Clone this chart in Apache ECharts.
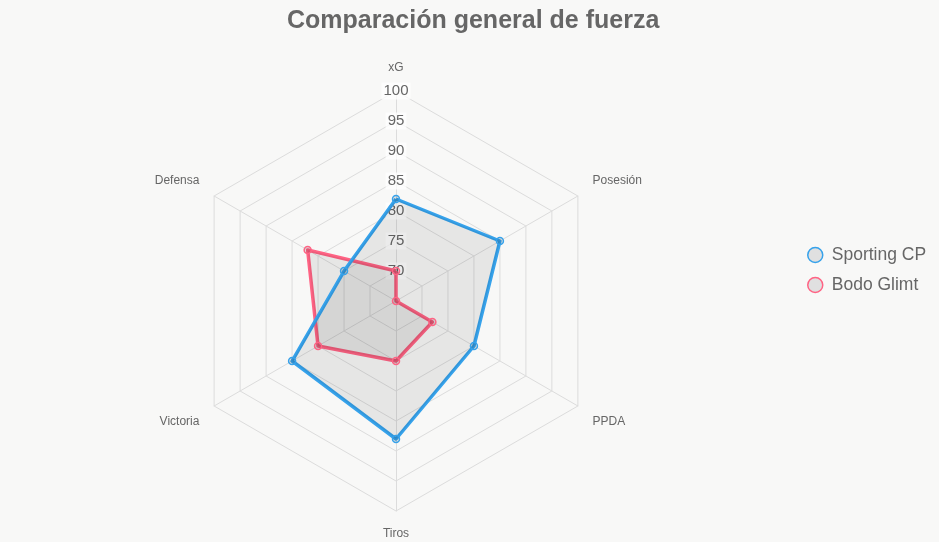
<!DOCTYPE html>
<html>
<head>
<meta charset="utf-8">
<script src="https://cdn.jsdelivr.net/npm/echarts@6/dist/echarts.min.js"></script>
<style>
  html, body { margin: 0; padding: 0; background: #f8f8f7; }
  #chart { width: 939px; height: 542px; }
</style>
</head>
<body>
<div id="chart"></div>
<script>
// axes in clockwise order, starting at the top
const axes = ['xG', 'Posesión', 'PPDA', 'Tiros', 'Victoria', 'Defensa']
const sporting = [82, 85, 80, 88, 85, 75]
const bodo = [70, 65, 72, 75, 80, 82]
const teams = ['Sporting CP', 'Bodo Glimt']
const colors = ['#36a2eb', '#ff6384']
const scaleMin = 65
const scaleMax = 100
const step = 5

// echarts lays radar axes counter-clockwise, so keep the first and flip the rest
const order = [0, ...axes.slice(1).map((_, i) => axes.length - 1 - i)]
const pick = arr => order.map(i => arr[i])

const center = [396, 301]
const radius = 210
const textColor = '#666'
const font = 'Liberation Sans, Arial, Helvetica, sans-serif'

const chart = echarts.init(document.getElementById('chart'))

const makeItem = (name, values, color) => ({
  name,
  value: pick(values),
  symbol: 'circle',
  symbolSize: 7,
  lineStyle: { color, width: 3.5 },
  areaStyle: { color: 'rgba(0,0,0,0.1)' },
  itemStyle: { color: 'rgba(0,0,0,0.1)', borderColor: color, borderWidth: 1.5 }
})

// side labels sit a little further from the vertex vertically
const nameStyle = name => {
  if (name === 'Posesión' || name === 'Defensa') return '{up|' + name + '}'
  if (name === 'PPDA' || name === 'Victoria') return '{down|' + name + '}'
  return name
}

chart.setOption({
  backgroundColor: '#f8f8f7',
  textStyle: { fontFamily: font },
  title: {
    text: 'Comparación general de fuerza',
    left: 282,
    top: 4,
    textStyle: { fontSize: 25, fontWeight: 'bold', color: textColor, fontFamily: font }
  },
  legend: {
    orient: 'vertical',
    left: 802,
    top: 241,
    itemWidth: 15,
    itemHeight: 15,
    itemGap: 12,
    icon: 'circle',
    textStyle: { fontSize: 17.5, color: textColor, fontFamily: font, padding: [0, 0, 0, 4] },
    data: teams.map((t, i) => ({
      name: t,
      itemStyle: { color: '#e0e0e0', borderColor: colors[i], borderWidth: 1.5 }
    }))
  },
  radar: {
    center,
    radius,
    startAngle: 90,
    shape: 'polygon',
    z: 0,
    splitNumber: (scaleMax - scaleMin) / step,
    indicator: pick(axes).map(name => ({ name, min: scaleMin, max: scaleMax })),
    axisName: {
      color: textColor,
      fontSize: 12,
      fontFamily: font,
      formatter: nameStyle,
      rich: {
        up: { color: textColor, fontSize: 12, fontFamily: font, padding: [0, 0, 13, 0] },
        down: { color: textColor, fontSize: 12, fontFamily: font, padding: [15, 0, 0, 0] }
      }
    },
    nameGap: 17,
    axisLine: { lineStyle: { color: '#dcdcdc' } },
    splitLine: { lineStyle: { color: '#dcdcdc' } },
    splitArea: { show: false },
    axisLabel: { show: false }
  },
  // hidden polar system only used for the tick labels on the top axis
  polar: { center, radius },
  angleAxis: { type: 'value', startAngle: 90, show: false },
  radiusAxis: {
    type: 'value',
    min: scaleMin,
    max: scaleMax,
    interval: step,
    axisLine: { show: false },
    axisTick: { show: false },
    splitLine: { show: false },
    z: 1,
    axisLabel: {
      margin: 0,
      rotate: 0,
      align: 'center',
      verticalAlign: 'middle',
      fontSize: 15,
      color: textColor,
      fontFamily: font,
      backgroundColor: 'rgba(255,255,255,0.75)',
      padding: [1, 2],
      formatter: v => (v === scaleMin ? '' : String(v))
    }
  },
  series: [{
    type: 'radar',
    z: 2,
    // Bodo first so Sporting is drawn on top
    data: [
      makeItem(teams[1], bodo, colors[1]),
      makeItem(teams[0], sporting, colors[0])
    ]
  }]
})
</script>
</body>
</html>
